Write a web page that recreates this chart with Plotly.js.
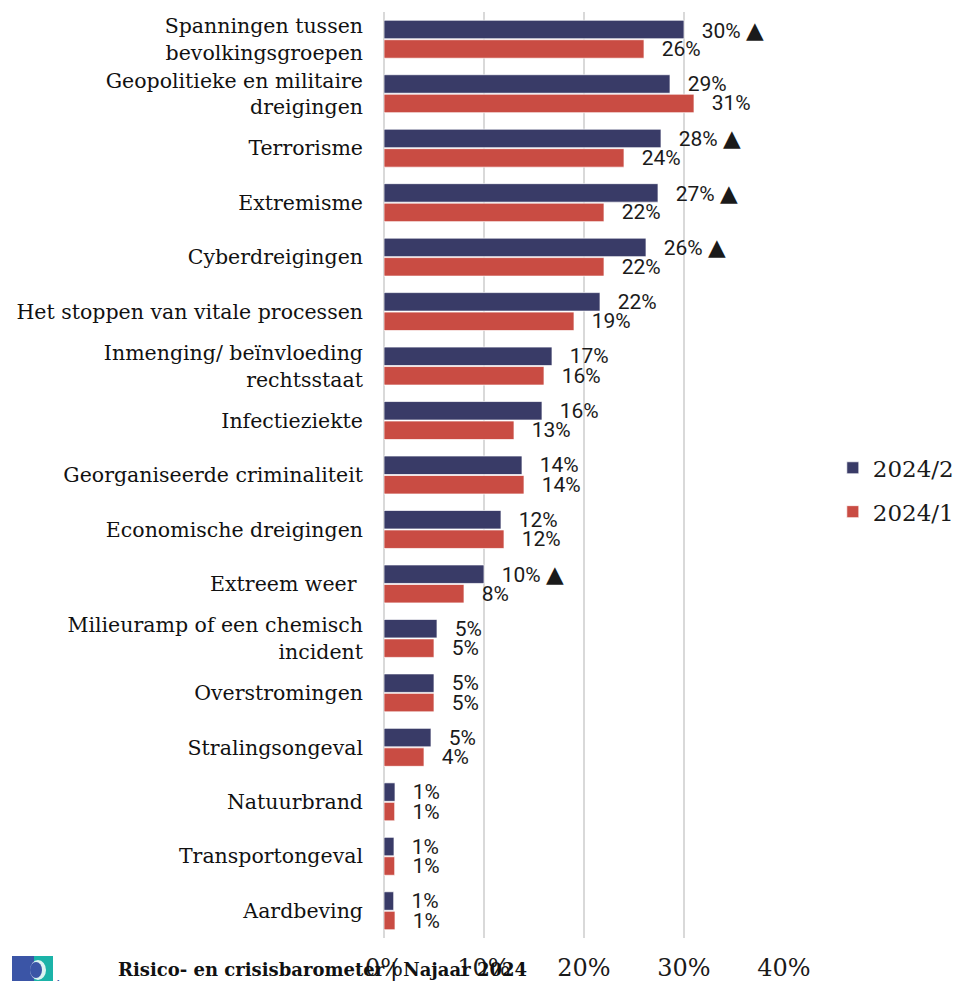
<!DOCTYPE html>
<html>
<head>
<meta charset="utf-8">
<script src="https://cdn.plot.ly/plotly-3.0.1.min.js"></script>
<style>
  html, body { margin: 0; padding: 0; background: #ffffff; }
  #chart { width: 961px; height: 981px; }
</style>
</head>
<body>
<div id="chart"></div>
<script>
// ---- data (top to bottom) ----
const categories = [
  "Spanningen tussen<br>bevolkingsgroepen",
  "Geopolitieke en militaire<br>dreigingen",
  "Terrorisme",
  "Extremisme",
  "Cyberdreigingen",
  "Het stoppen van vitale processen",
  "Inmenging/ beïnvloeding<br>rechtsstaat",
  "Infectieziekte",
  "Georganiseerde criminaliteit",
  "Economische dreigingen",
  "Extreem weer\u00a0",
  "Milieuramp of een chemisch<br>incident",
  "Overstromingen",
  "Stralingsongeval",
  "Natuurbrand",
  "Transportongeval",
  "Aardbeving"
];
const seriesNames = ["2024/2", "2024/1"];
const values2024_2 = [30.0, 28.6, 27.7, 27.4, 26.2, 21.6, 16.8, 15.8, 13.8, 11.7, 10.0, 5.3, 5.0, 4.7, 1.1, 1.0, 0.97];
const values2024_1 = [26.0, 31.0, 24.0, 22.0, 22.0, 19.0, 16.0, 13.0, 14.0, 12.0, 8.0, 5.0, 5.0, 4.0, 1.07, 1.07, 1.1];
const labels2024_2 = ["30%","29%","28%","27%","26%","22%","17%","16%","14%","12%","10%","5%","5%","5%","1%","1%","1%"];
const labels2024_1 = ["26%","31%","24%","22%","22%","19%","16%","13%","14%","12%","8%","5%","5%","4%","1%","1%","1%"];
const significantRise = [true,false,true,true,true,false,false,false,false,false,true,false,false,false,false,false,false];
const xTicks = [0, 10, 20, 30, 40];
const xTickLabels = ["0%", "10%", "20%", "30%", "40%"];
const footerText = "Risico- en crisisbarometer | Najaar 2024";

const colors = ["#393b67", "#c94c43"];
const pad = "\u00a0\u00a0\u2009";
const tri = '<span style="font-family:DejaVu Sans;font-size:23px">▲</span>';

const text2 = labels2024_2.map((l, i) => pad + l + (significantRise[i] ? " " + tri : ""));
const text1 = labels2024_1.map(l => pad + l);

const common = {
  type: "bar",
  orientation: "h",
  y: categories,
  textposition: "outside",
  cliponaxis: false,
  constraintext: "none",
  textfont: { family: "Roboto, sans-serif", size: 21, color: "#1a1a1a" },
  hoverinfo: "skip"
};

const traces = [
  Object.assign({}, common, {
    name: seriesNames[0], x: values2024_2, text: text2, legendgroup: "a",
    marker: { color: colors[0], line: { color: "rgba(255,255,255,0.7)", width: 1 } }
  }),
  Object.assign({}, common, {
    name: seriesNames[1], x: values2024_1, text: text1, legendgroup: "b",
    marker: { color: colors[1], line: { color: "rgba(255,255,255,0.7)", width: 1 } }
  })
];

const logoSvg = '<svg xmlns="http://www.w3.org/2000/svg" width="80" height="40" viewBox="0 0 80 40">' +
  '<rect x="0" y="0" width="22" height="40" fill="#3b55a6"/>' +
  '<rect x="22" y="0" width="19" height="40" fill="#1bb3a8"/>' +
  '<ellipse cx="26" cy="14" rx="8" ry="10" fill="#ffffff" opacity="0.85"/>' +
  '<ellipse cx="24" cy="14" rx="6" ry="8" fill="#3b55a6"/>' +
  '<text x="44" y="36" font-family="DejaVu Sans" font-size="16" fill="#3b55a6">iso</text>' +
  '</svg>';

const layout = {
  width: 961,
  height: 981,
  margin: { l: 384, r: 177, t: 12, b: 43, autoexpand: false },
  paper_bgcolor: "#ffffff",
  plot_bgcolor: "#ffffff",
  barmode: "group",
  bargap: 0.285,
  bargroupgap: 0.05,
  showlegend: true,
  legend: {
    x: 1.122, xanchor: "left",
    y: 0.484, yanchor: "middle",
    font: { family: "DejaVu Serif, serif", size: 23, color: "#1a1a1a" },
    tracegroupgap: 11,
    traceorder: "grouped",
    bgcolor: "rgba(0,0,0,0)"
  },
  xaxis: {
    range: [0, 40],
    tickmode: "array",
    tickvals: xTicks,
    ticktext: xTickLabels,
    showgrid: true,
    gridcolor: "#d9d9d9",
    gridwidth: 2,
    zeroline: true,
    zerolinecolor: "#d9d9d9",
    zerolinewidth: 2,
    showline: false,
    ticks: "",
    ticklabelstandoff: 13,
    tickfont: { family: "DejaVu Serif, serif", size: 24, color: "#1a1a1a" },
    fixedrange: true
  },
  yaxis: {
    type: "category",
    autorange: "reversed",
    showgrid: false,
    zeroline: false,
    showline: false,
    ticks: "",
    ticklabelstandoff: 20,
    tickfont: { family: "DejaVu Serif, serif", size: 20.5, color: "#111111" },
    fixedrange: true
  },
  annotations: [{
    text: "<b>" + footerText + "</b>",
    xref: "paper", yref: "paper",
    x: (116 - 384) / 400, y: (938 - 970) / 926,
    xanchor: "left", yanchor: "middle",
    showarrow: false,
    font: { family: "DejaVu Serif, serif", size: 18, color: "#111111" }
  }],
  images: [{
    source: "data:image/svg+xml;charset=utf-8," + encodeURIComponent(logoSvg),
    xref: "paper", yref: "paper",
    x: (12 - 384) / 400, y: (938 - 956) / 926,
    sizex: 80 / 400, sizey: 40 / 926,
    xanchor: "left", yanchor: "top",
    sizing: "stretch",
    layer: "above"
  }]
};

Plotly.newPlot("chart", traces, layout, { staticPlot: true, displayModeBar: false });
</script>
</body>
</html>
